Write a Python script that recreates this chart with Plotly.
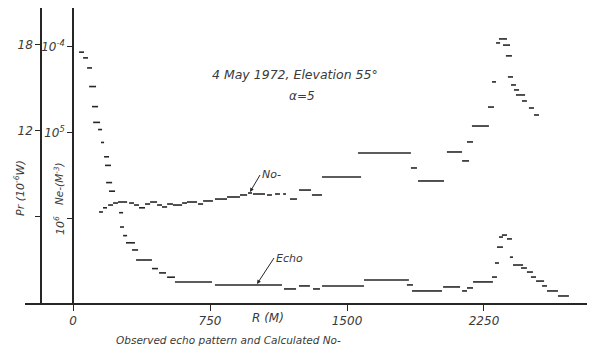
import plotly.graph_objects as go

# Observed echo power: each step is a range gate [start, end] in metres and a level in 1e-6 W
echo_r0 = [33, 55, 77, 88, 104, 110, 137, 153, 170, 175, 181, 197, 252, 257, 274, 290, 323, 345,
           432, 471, 515, 558, 777, 1155, 1237, 1314, 1363, 1593, 1828, 1856, 2026, 2130, 2157,
           2190, 2294, 2310, 2321, 2332, 2348, 2376, 2392, 2409, 2453, 2485, 2507, 2535, 2568,
           2595, 2655]
echo_r1 = [60, 82, 104, 126, 137, 148, 159, 170, 197, 208, 214, 230, 274, 279, 296, 339, 356, 432,
           465, 509, 558, 761, 1144, 1221, 1297, 1352, 1593, 1839, 1861, 2020, 2119, 2157, 2190,
           2299, 2321, 2332, 2354, 2354, 2376, 2403, 2409, 2464, 2485, 2518, 2535, 2579, 2595,
           2655, 2715]
echo_pr = [17.5, 17.1, 16.4, 15.1, 13.7, 12.6, 12.1, 11.2, 10.2, 9.6, 8.4, 7.8, 6.3, 5.3, 4.7, 4.2,
           3.7, 3.0, 2.4, 2.1, 1.8, 1.47, 1.26, 0.98, 1.19, 0.98, 1.19, 1.60, 1.26, 0.84, 1.12,
           0.84, 1.05, 1.47, 1.81, 2.79, 3.9, 4.6, 4.74, 4.47, 3.2, 2.65, 2.44, 2.16, 1.81, 1.53,
           1.19, 0.84, 0.49]

# Calculated electron density per range gate (m^-3)
ne_r0 = [142, 164, 192, 219, 246, 307, 334, 361, 394, 422, 460, 487, 515, 547, 597, 624, 684, 712,
         777, 843, 914, 958, 985, 1062, 1106, 1150, 1188, 1237, 1308, 1363, 1560, 1850, 1889,
         2047, 2130, 2157, 2184, 2272, 2294, 2316, 2332, 2354, 2370, 2381, 2398, 2414, 2425,
         2458, 2496, 2524]
ne_r1 = [164, 186, 219, 246, 296, 334, 361, 394, 422, 460, 487, 515, 547, 597, 624, 679, 712, 766,
         843, 914, 953, 980, 1051, 1089, 1133, 1166, 1226, 1303, 1363, 1577, 1850, 1883, 2031,
         2130, 2168, 2190, 2277, 2305, 2316, 2338, 2376, 2392, 2403, 2409, 2425, 2442, 2475,
         2485, 2524, 2551]
ne_val = [8.5e5, 7.6e5, 7.05e5, 6.68e5, 6.5e5, 6.68e5, 7.05e5, 7.6e5, 6.86e5, 6.5e5, 7.05e5,
          7.43e5, 6.86e5, 7.05e5, 6.68e5, 6.5e5, 6.86e5, 6.32e5, 6.0e5, 5.68e5, 5.38e5, 5.1e5,
          5.24e5, 5.38e5, 5.24e5, 5.24e5, 6.0e5, 4.71e5, 5.38e5, 3.31e5, 1.74e5, 2.6e5, 3.69e5,
          1.69e5, 2.15e5, 1.29e5, 8.4e4, 5.04e4, 2.56e4, 8.97e3, 8.05e3, 9.5e3, 1.27e4, 2.24e4,
          2.78e4, 3.18e4, 3.64e4, 4.28e4, 5.17e4, 6.24e4]

x_ticks = [0, 750, 1500, 2250]
x_ticklabels = ["0", "750", "1500", "2250"]
pr_ticks = [6, 12, 18]
pr_ticklabels = ["", "12", "18"]
ne_ticks = [1e4, 1e5, 1e6]
ne_ticklabels = ["10<sup>-4</sup>", "10<sup>5</sup>", ""]

INK = "#262626"
FONT = dict(family="DejaVu Sans", size=12, color="#3a3a3a", style="italic")

# page geometry (pixels) of the plotting area
W, H = 597, 353
L, R_, T, B = 25, 10, 8, 50
pw, ph = W - L - R_, H - T - B


def px(x, y):
    """Convert page pixels to paper coordinates."""
    return (x - L) / pw, (H - B - y) / ph


def steps(r0, r1, v):
    xs, ys = [], []
    for a, b, c in zip(r0, r1, v):
        xs += [a, b, None]
        ys += [c, c, None]
    return xs, ys


fig = go.Figure()
ex, ey = steps(echo_r0, echo_r1, echo_pr)
fig.add_trace(go.Scatter(x=ex, y=ey, mode="lines", line=dict(color=INK, width=1.6),
                         name="Echo", showlegend=False))
nx, ny = steps(ne_r0, ne_r1, ne_val)
fig.add_trace(go.Scatter(x=nx, y=ny, mode="lines", line=dict(color=INK, width=1.6),
                         name="Ne", yaxis="y2", showlegend=False))

fig.update_layout(
    width=W, height=H,
    margin=dict(l=L, r=R_, t=T, b=B),
    paper_bgcolor="white", plot_bgcolor="white",
    font=FONT,
    xaxis=dict(range=[-263, 2814], showgrid=False, zeroline=False, showline=True,
               linecolor=INK, linewidth=1.5, tickvals=x_ticks, ticktext=x_ticklabels,
               ticks="outside", ticklen=6, tickcolor=INK, tickwidth=1.3, tickfont=FONT),
    yaxis=dict(range=[0, 20.58], showgrid=False, zeroline=False, showline=True,
               linecolor=INK, linewidth=1.5, anchor="free", position=16 / pw,
               tickvals=pr_ticks, ticktext=pr_ticklabels, ticks="outside", ticklen=5,
               tickcolor=INK, tickwidth=1.3, tickfont=FONT),
    yaxis2=dict(type="log", range=[6.994, 3.544], overlaying="y", side="left",
                anchor="free", position=48 / pw, showgrid=False, zeroline=False,
                showline=True, linecolor=INK, linewidth=1.5, tickvals=ne_ticks,
                ticktext=ne_ticklabels, ticks="outside", ticklen=5, tickcolor=INK,
                tickwidth=1.3, tickfont=FONT),
)

ann = []


def text(x, y, s, size=12, angle=0, xanchor="center"):
    ax, ay = px(x, y)
    ann.append(dict(x=ax, y=ay, xref="paper", yref="paper", text=s, showarrow=False,
                    textangle=angle, xanchor=xanchor, yanchor="middle",
                    font=dict(FONT, size=size)))


text(295, 75, "4 May 1972, Elevation 55°", 12.5)
text(302, 96, "α=5", 12)
text(20, 188, "Pr (10<sup>-6</sup>W)", 11, angle=-90)
text(59, 184, "Ne-(M<sup>-3</sup>)", 10.5, angle=-90)
text(59, 226, "10<sup>6</sup>", 11, angle=-90)
text(268, 318, "R (M)", 12)
text(228, 340, "Observed echo pattern and Calculated No-", 10.5)

# series labels with pointer arrows
for lab, tx, ty, hx, hy in [("No-", 268, 175, 250, 192), ("Echo", 282, 258, 257, 284)]:
    ax1, ay1 = px(hx, hy)
    ann.append(dict(x=ax1, y=ay1, xref="paper", yref="paper", ax=tx - 8 - hx, ay=ty - hy,
                    text=lab, showarrow=True, arrowhead=2, arrowsize=0.8, arrowwidth=1,
                    arrowcolor=INK, xanchor="left", font=dict(FONT, size=11)))

fig.update_layout(annotations=ann)
fig.write_html("out.html")
